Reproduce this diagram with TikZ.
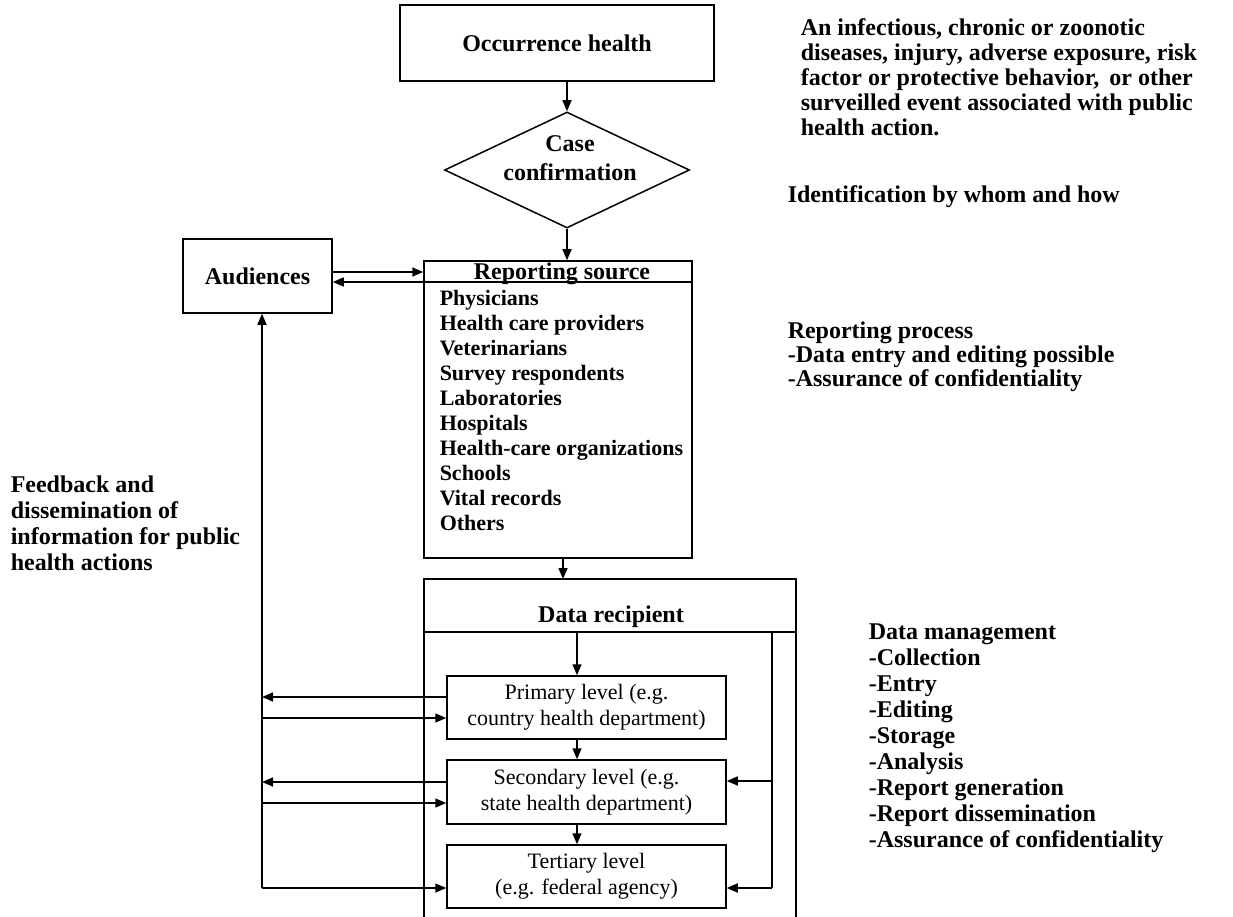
\documentclass[tikz,border=0pt]{standalone}
\usepackage{fontspec}
\setmainfont{Liberation Serif}
\usetikzlibrary{arrows.meta,shapes.geometric,calc}
\begin{document}
\begin{tikzpicture}[x=1pt,y=-1pt,
  line width=1.5pt,
  box/.style={draw, line width=1.5pt, inner sep=0pt},
  arr/.style={-{Triangle[length=11pt,width=9pt]}},
  big/.style={font=\fontsize{24}{25}\selectfont\bfseries, inner sep=0pt},
  lst/.style={font=\fontsize{22}{25}\selectfont\bfseries, inner sep=0pt, anchor=base west},
  lvl/.style={box, align=center, minimum width=279pt, font=\fontsize{22}{26}\selectfont}]
\useasboundingbox (0,0) rectangle (1233,917);

% top of the flow
\node[box, big, minimum width=314pt, minimum height=76pt] (occ) at (557,43) {Occurrence health};
\node[diamond, draw, aspect=2.11, inner sep=0pt, minimum width=245pt, minimum height=116pt] (dia) at (567,170) {};
\node[big, align=center, font=\fontsize{24}{29}\selectfont\bfseries] (diat) at (570,158) {Case\\confirmation};
\draw[arr] (occ.south -| dia.north) -- (dia.north);

% reporting source
\node[box, minimum width=268pt, minimum height=297pt] (rep) at (558,409.5) {};
\node[big, anchor=base] (rept) at (562,279) {Reporting source};
\draw[arr] (dia.south) -- (rep.north -| dia.south);
\foreach \t [count=\i from 0] in {Physicians, Health care providers, Veterinarians,
  Survey respondents, Laboratories, Hospitals, Health-care organizations,
  Schools, Vital records, Others}
  \node[lst] (src\i) at (439,305+25*\i) {\t};

% audiences
\node[box, big, minimum width=149pt, minimum height=74pt] (aud) at (257.5,276) {Audiences};
\coordinate (audhi) at ([yshift=4pt]aud.east);
\coordinate (audlo) at ([yshift=-6pt]aud.east);
\draw[arr] (audhi) -- (audhi -| rep.west);
\draw[arr] (audlo -| rep.east) -- (audlo);

% data recipient frame
\coordinate (drBL) at (424,917);
\coordinate (drTL) at (424,579);
\coordinate (drTR) at (796,579);
\coordinate (drBR) at (796,917);
\coordinate (hdL) at (424,632);
\coordinate (hdR) at (796,632);
\draw (drBL) -- (drTL) -- (drTR) -- (drBR);
\draw (hdL) -- (hdR);
\node[big] (drt) at (611,617) {Data recipient};
\coordinate (drin) at (563,579);
\draw[arr] (rep.south -| drin) -- (drin);

% levels
\node[lvl, minimum height=63pt] (prim) at (586.5,707.5) {Primary level (e.g.\\country health department)};
\node[lvl, minimum height=64pt] (sec) at (586.5,792) {Secondary level (e.g.\\state health department)};
\node[lvl, minimum height=63pt] (ter) at (586.5,876.5) {Tertiary level\\(e.g. federal agency)};
\coordinate (col) at (577,632);
\draw[arr] (col) -- (col |- prim.north);
\draw[arr] (prim.south -| col) -- (sec.north -| col);
\draw[arr] (sec.south -| col) -- (ter.north -| col);

% feedback to audiences
\coordinate (fbb) at (262,888);
\draw[arr] (fbb) -- (fbb |- aud.south);
\coordinate (p1o) at ([yshift=10.5pt]prim.west);
\coordinate (p1i) at ([yshift=-10.5pt]prim.west);
\coordinate (s1o) at ([yshift=10pt]sec.west);
\coordinate (s1i) at ([yshift=-11pt]sec.west);
\coordinate (t1i) at ([yshift=-11.5pt]ter.west);
\draw[arr] (p1o) -- (p1o -| fbb);
\draw[arr] (p1i -| fbb) -- (p1i);
\draw[arr] (s1o) -- (s1o -| fbb);
\draw[arr] (s1i -| fbb) -- (s1i);
\draw[arr] (t1i -| fbb) -- (t1i);

% return path on the right
\coordinate (rt) at (772,632);
\coordinate (rb) at (772,888);
\coordinate (sr) at (772,781);
\draw (rt) -- (rb);
\draw[arr] (rb) -- (rb -| ter.east);
\draw[arr] (sr) -- (sr -| sec.east);

% side notes
\foreach \t [count=\i from 0] in {{An infectious, chronic or zoonotic},
  {diseases, injury, adverse exposure, risk},
  {factor or protective behavior,\, or other},
  {surveilled event associated with public},
  {health action.}}
  \node[big, anchor=base west] (ev\i) at (800,36+25*\i) {\t};
\node[big, anchor=base west] (ident) at (787,203) {Identification by whom and how};
\foreach \t [count=\i from 0] in {{Reporting process},
  {-Data entry and editing possible},
  {-Assurance of confidentiality}}
  \node[big, anchor=base west] (rp\i) at (787,338+24*\i) {\t};
\foreach \t [count=\i from 0] in {{Data management}, {-Collection}, {-Entry},
  {-Editing}, {-Storage}, {-Analysis}, {-Report generation},
  {-Report dissemination}, {-Assurance of confidentiality}}
  \node[big, anchor=base west] (dm\i) at (868,639+26*\i) {\t};
\foreach \t [count=\i from 0] in {{Feedback and}, {dissemination of},
  {information for public}, {health actions}}
  \node[big, anchor=base west] (fb\i) at (10,492+26*\i) {\t};
\end{tikzpicture}
\end{document}
